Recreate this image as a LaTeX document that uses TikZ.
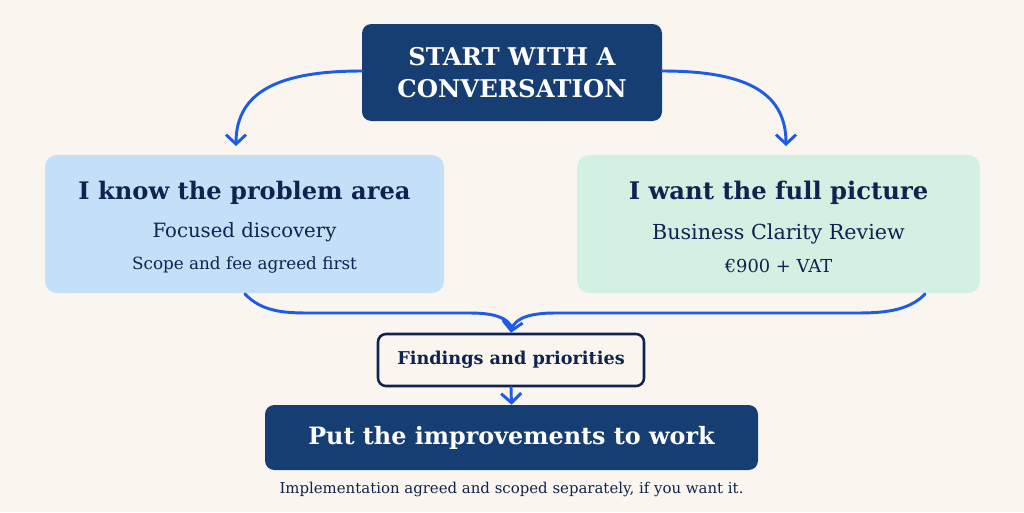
\documentclass[tikz,border=0pt]{standalone}
\usepackage{fontspec}
\setmainfont{DejaVu Serif}
\usetikzlibrary{arrows.meta}
\definecolor{bg}{HTML}{FAF6EF}
\definecolor{navy}{HTML}{163E73}
\definecolor{ink}{HTML}{10224F}
\definecolor{lblue}{HTML}{C4DFF8}
\definecolor{mint}{HTML}{D3F1E2}
\definecolor{arrowblue}{HTML}{1D5BE8}
\tikzset{
  darkbox/.style={fill=navy, rounded corners=7pt, text=white, align=center, inner sep=0pt},
  lightbox/.style={rounded corners=9pt, text=ink, align=center, inner sep=0pt},
  outlinebox/.style={draw=ink, line width=1.9pt, fill=bg, rounded corners=6pt, text=ink, inner sep=0pt},
  flow/.style={draw=arrowblue, line width=2.2pt, line cap=round, -{Straight Barb[length=7pt,width=15pt,line width=2.2pt]}},
  flowline/.style={draw=arrowblue, line width=2.2pt, line cap=round}
}
\begin{document}
\begin{tikzpicture}[x=0.75pt,y=-0.75pt]
\fill[bg] (0,0) rectangle (1024,512);
\useasboundingbox (0,0) rectangle (1024,512);
% boxes
\node[darkbox, minimum width=300*0.75pt, minimum height=97*0.75pt, font=\fontsize{18.3}{23.5}\selectfont\bfseries] (start) at (512,72.5)
  {START WITH A\\CONVERSATION};
\node[lightbox, fill=lblue, minimum width=399*0.75pt, minimum height=138*0.75pt] (left) at (244.5,224) {};
\node[lightbox, fill=mint, minimum width=403*0.75pt, minimum height=138*0.75pt] (right) at (778.5,224) {};
\node[text=ink, font=\fontsize{18.1}{24}\selectfont\bfseries] (lt1) at (244.5,193) {I know the problem area};
\node[text=ink, font=\fontsize{14.75}{20}\selectfont] (lt2) at (244.5,232) {Focused discovery};
\node[text=ink, font=\fontsize{12.6}{16}\selectfont] (lt3) at (244.5,265) {Scope and fee agreed first};
\node[text=ink, font=\fontsize{18.2}{24}\selectfont\bfseries] (rt1) at (778.5,193) {I want the full picture};
\node[text=ink, font=\fontsize{15.5}{20}\selectfont] (rt2) at (778.5,234) {Business Clarity Review};
\node[text=ink, font=\fontsize{13.4}{16}\selectfont] (rt3) at (778.5,266) {€900 + VAT};
\node[outlinebox, minimum width=266*0.75pt, minimum height=52*0.75pt, font=\fontsize{13.25}{18}\selectfont\bfseries] (find) at (511,360) {Findings and priorities};
\node[darkbox, minimum width=493*0.75pt, minimum height=65*0.75pt, font=\fontsize{17.9}{24}\selectfont\bfseries] (work) at (511.5,437.5) {Put the improvements to work};
\node[text=ink, font=\fontsize{11.2}{14}\selectfont] (cap) at (511.5,489) {Implementation agreed and scoped separately, if you want it.};
% connectors
\coordinate (lt) at (236,146);
\coordinate (rtip) at (786,146);
\draw[flow] (start.west |- 0,71) .. controls (282,71) and (236,90) .. (lt);
\draw[flow] (start.east |- 0,71) .. controls (742,71) and (786,90) .. (rtip);
\draw[flowline] (245,294) .. controls (262,312) and (285,313) .. (310,313) -- (470,313) .. controls (495,313) and (508,318) .. (512,328);
\draw[flowline] (925,294) .. controls (908,312) and (880,313) .. (855,313) -- (555,313) .. controls (530,313) and (516,318) .. (512,328);
\draw[flow] (512,326) -- (find.north);
\draw[flow] (find.south) -- (work.north);
\end{tikzpicture}
\end{document}
